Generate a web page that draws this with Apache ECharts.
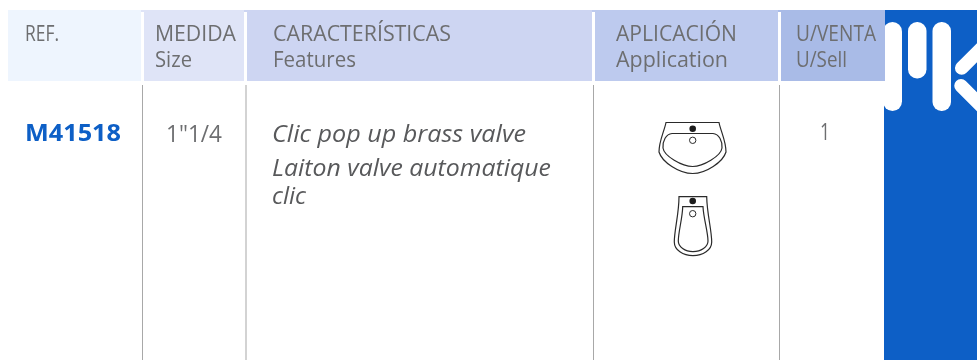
<!DOCTYPE html>
<html><head><meta charset="utf-8">
<style>html,body{margin:0;padding:0;background:#fff}#c{width:977px;height:360px}</style>
<script src="https://cdn.jsdelivr.net/npm/echarts@6/dist/echarts.min.js"></script>
</head><body><div id="c"></div>
<script>
const headersTop = ['REF.', 'MEDIDA', 'CARACTERÍSTICAS', 'APLICACIÓN', 'U/VENTA'];
const headersBottom = ['', 'Size', 'Features', 'Application', 'U/Sell'];
const refCode = 'M41518';
const sizeText = '1"1/4';
const featureLines = ['Clic pop up brass valve', 'Laiton valve automatique', 'clic'];
const unitsText = '1';

const FAMILY = '"Open Sans", "Noto Sans", sans-serif';
const GREY = '#6d6e70';
const cols = [[8,141,'#eef5fe'],[144,244,'#dfe4f7'],[247,592,'#cdd5f2'],[595,778,'#bdcaee'],[781,885,'#a9bbe7']];
const textX = [25,155,273,616,796];
const topW = [34,81,178,121,80];
const botW = [0,37,83,112,51];
const rules = [142,245.5,593,779];
const els = [];
const rect = (x,y,w,h,fill,r)=>({type:'rect',shape:{x,y,width:w,height:h,r:r||0},style:{fill}});
const meas = document.createElement('canvas').getContext('2d');
// text squeezed horizontally to the width it has in the reference
function text(x,y,t,font,fill,width){
  meas.font = font;
  const w = meas.measureText(t).width;
  return {type:'text',x,y,scaleX:width/w,style:{text:t,font,fill,textVerticalAlign:'middle'}};
}
const stroke = {fill:'none',stroke:'#2a2a2a',lineWidth:1.2};
const shapes = {
 basinOuter:'M666 122.5 L719 122.5 C721 132 726 141 726 152 C723 162 706 173.5 692.7 173.5 C679 173.5 662 162 659 152 C659 141 664 132 666 122.5 Z',
 basinInner:'M672 133.5 L713 133.5 C719 134 722.5 141 722 148 C721 156 703 166.5 692.7 166.5 C682 166.5 664 156 663 148 C662.5 141 666 134 672 133.5 Z',
 bidetOuter:'M679 196.7 L706.7 196.7 C707 214 711.7 230 711.7 242 C711.7 250 703 255.7 693 255.7 C683 255.7 674.3 250 674.3 242 C674.3 230 679 214 679 196.7 Z',
 bidetInner:'M682.7 206.7 L703 206.7 C703.5 218 708 232 708 241 C708 247 701 251.7 693 251.7 C685 251.7 678.3 247 678.3 241 C678.3 232 682.5 218 682.7 206.7 Z'
};
Object.keys(shapes).forEach(k=>echarts.graphic.registerShape(k,echarts.graphic.extendPath(shapes[k],{})));

// blue panel and logo
els.push(rect(884,10,93,350,'#0d5fc6'));
els.push(rect(883,22,19,89,'#fff',9.5));
els.push(rect(908,22,18.5,56.5,'#fff',9));
els.push(rect(932.5,22,18.5,89,'#fff',9));
const arm = (x1,y1,x2,y2)=>({type:'line',shape:{x1,y1,x2,y2},style:{stroke:'#fff',lineWidth:13.5,lineCap:'round'}});
els.push(arm(961.7,68,990,39.7));
els.push(arm(961,85.7,990,114.7));

// header
cols.forEach(c=>els.push(rect(c[0],10,c[1]-c[0],71,c[2])));
cols.slice(0,-1).forEach((c,i)=>els.push(rect(c[1],10,cols[i+1][0]-c[1],2,cols[i+1][2])));
rules.forEach(x=>els.push({type:'rect',shape:{x,y:85,width:1,height:275},style:{fill:'#a8a8a8'}}));
const hf = `21px ${FAMILY}`;
headersTop.forEach((t,i)=>{
  els.push(text(textX[i],35,t,hf,GREY,topW[i]));
  if(headersBottom[i]) els.push(text(textX[i],61,headersBottom[i],hf,GREY,botW[i]));
});

// row
els.push(text(25,134,refCode,`bold 24px ${FAMILY}`,'#0d5fc6',96));
els.push(text(166,135,sizeText,`23px ${FAMILY}`,GREY,56));
const fY=[135,169,197], fW=[254,279,34];
featureLines.forEach((t,i)=>els.push(text(272,fY[i],t,`italic 23px ${FAMILY}`,'#58595b',fW[i])));
els.push(text(820,133,unitsText,`23px ${FAMILY}`,GREY,10));

// icons
['basinOuter','basinInner','bidetOuter','bidetInner'].forEach(k=>els.push({type:k,shape:{},style:stroke}));
[[692.7,128.7],[692.7,201]].forEach(p=>els.push({type:'circle',shape:{cx:p[0],cy:p[1],r:3.3},style:{fill:'#1c1c1c'}}));
[[692.7,140.3],[692.7,213.7]].forEach(p=>els.push({type:'circle',shape:{cx:p[0],cy:p[1],r:3.2},style:{fill:'none',stroke:'#2a2a2a',lineWidth:1}}));

const chart = echarts.init(document.getElementById('c'),null,{renderer:'canvas'});
chart.setOption({animation:false,backgroundColor:'#fff',graphic:{elements:els}});
</script></body></html>
